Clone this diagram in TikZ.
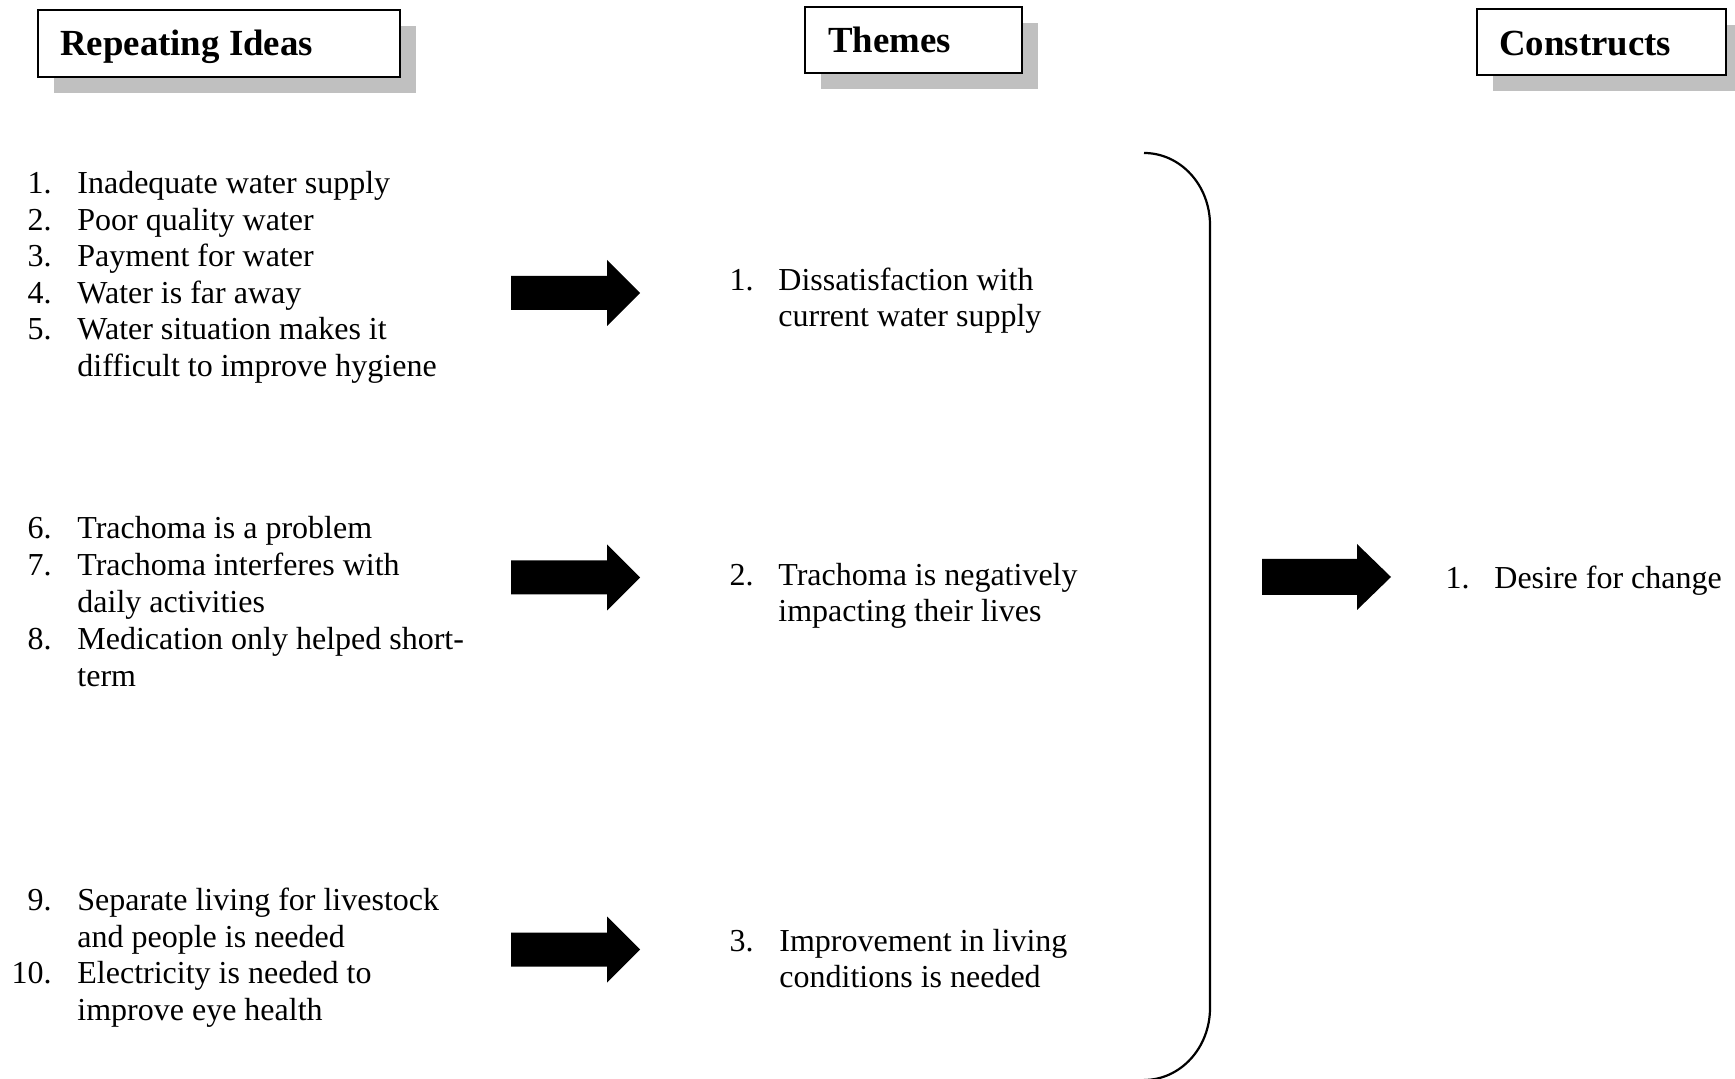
\documentclass[tikz,border=0pt]{standalone}
\usepackage{fontspec}
\setmainfont{Liberation Serif}
\usetikzlibrary{shadows}
\definecolor{shadowgray}{HTML}{C0C0C0}
\begin{document}
\begin{tikzpicture}[x=0.5pt,y=-0.5pt,
  hdrbox/.style={draw=black, line width=1pt, fill=white, rectangle, inner sep=0pt,
    anchor=north west,
    drop shadow={shadow xshift=8pt, shadow yshift=-8pt, fill=shadowgray, opacity=1}},
  hdrtxt/.style={inner sep=0pt, anchor=base west, font=\fontsize{18.4}{22}\selectfont\bfseries},
  txt/.style={inner sep=0pt, anchor=base west, font=\fontsize{16}{19}\selectfont, yshift=-1pt},
  num/.style={inner sep=0pt, anchor=base east, font=\fontsize{16}{19}\selectfont, yshift=-1pt},
  blockarrow/.style={fill=black, draw=none},
  bracket/.style={draw=black, line width=1.1pt}
]
\clip (0,0) rectangle (1735,1079);
\fill[white] (0,0) rectangle (1735,1079);

% headers
\node[hdrbox, minimum width=181pt, minimum height=33.5pt] (h1box) at (37,9) {};
\node[hdrtxt] (h1) at (60,56) {Repeating Ideas};
\node[hdrbox, minimum width=108.5pt, minimum height=33pt] (h2box) at (804,6) {};
\node[hdrtxt] (h2) at (828,53) {Themes};
\node[hdrbox, minimum width=124.5pt, minimum height=33pt] (h3box) at (1476,8) {};
\node[hdrtxt] (h3) at (1499,56) {Constructs};

% repeating ideas group 1
\node[num] (n1) at (52,192) {1.};
\node[txt] (r1) at (77,192) {Inadequate water supply};
\node[num] (n2) at (52,228.5) {2.};
\node[txt] (r2) at (77,228.5) {Poor quality water};
\node[num] (n3) at (52,265) {3.};
\node[txt] (r3) at (77,265) {Payment for water};
\node[num] (n4) at (52,301.5) {4.};
\node[txt] (r4) at (77,301.5) {Water is far away};
\node[num] (n5) at (52,338) {5.};
\node[txt] (r5) at (77,338) {Water situation makes it};
\node[txt] (r5b) at (77,374.5) {difficult to improve hygiene};

% group 2
\node[num] (n6) at (52,537) {6.};
\node[txt] (r6) at (77,537) {Trachoma is a problem};
\node[num] (n7) at (52,574) {7.};
\node[txt] (r7) at (77,574) {Trachoma interferes with};
\node[txt] (r7b) at (77,611) {daily activities};
\node[num] (n8) at (52,648) {8.};
\node[txt] (r8) at (77,648) {Medication only helped short-};
\node[txt] (r8b) at (77,685) {term};

% group 3
\node[num] (n9) at (52,908.5) {9.};
\node[txt] (r9) at (77,908.5) {Separate living for livestock};
\node[txt] (r9b) at (77,945) {and people is needed};
\node[num] (n10) at (52,981.5) {10.};
\node[txt] (r10) at (77,981.5) {Electricity is needed to};
\node[txt] (r10b) at (77,1018) {improve eye health};

% themes
\node[num] (t1n) at (754,288.5) {1.};
\node[txt] (t1) at (778,288.5) {Dissatisfaction with};
\node[txt] (t1b) at (778,325) {current water supply};
\node[num] (t2n) at (754,583.5) {2.};
\node[txt] (t2) at (778,583.5) {Trachoma is negatively};
\node[txt] (t2b) at (778,620) {impacting their lives};
\node[num] (t3n) at (754,949.5) {3.};
\node[txt] (t3) at (779,949.5) {Improvement in living};
\node[txt] (t3b) at (779,985.5) {conditions is needed};

% constructs
\node[num] (c1n) at (1470,586.5) {1.};
\node[txt] (c1) at (1494,586.5) {Desire for change};

% block arrows
\foreach \cy/\nm in {293/a1, 577.5/a2, 949.5/a3}{
  \coordinate (\nm) at (511,\cy);
  \fill[blockarrow] (\nm) ++(0,-17) -- ++(96,0) -- ++(0,-16) -- ++(33,33)
     -- ++(-33,33) -- ++(0,-16) -- ++(-96,0) -- cycle;
}
\coordinate (a4) at (1262,577);
\fill[blockarrow] (a4) ++(0,-18) -- ++(95,0) -- ++(0,-15) -- ++(34,33)
   -- ++(-34,33) -- ++(0,-15) -- ++(-95,0) -- cycle;

% bracket
\coordinate (bt) at (1144,153);
\coordinate (bb) at (1144,1080);
\draw[bracket] (bt) .. controls (1180.5,153) and (1210,185.2) .. (1210,225)
  -- (1210,1008) .. controls (1210,1047.8) and (1180.5,1080) .. (bb);
\end{tikzpicture}
\end{document}
